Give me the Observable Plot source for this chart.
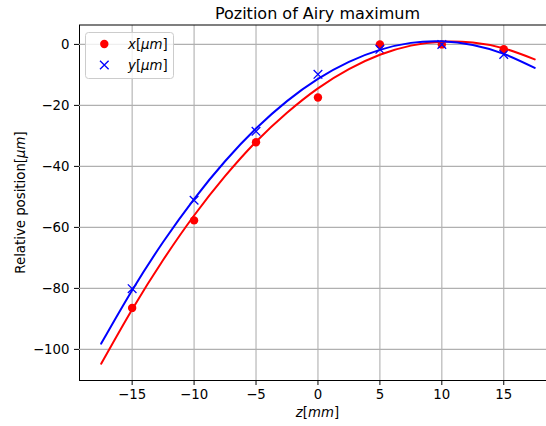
<!DOCTYPE html>
<html><head><meta charset="utf-8">
<script src="https://cdn.jsdelivr.net/npm/d3@7"></script>
<script src="https://cdn.jsdelivr.net/npm/@observablehq/plot@0.6"></script>
<style>body{margin:0;background:#fff} #chart svg{display:block}</style>
</head><body><div id="chart"></div>
<script>
// measured points
const zMeasured = [-15, -10, -5, 0, 5, 10, 15];
const xMeasured = [-86.4, -57.7, -32.1, -17.4, 0.0, 0.0, -1.6];
const yMeasured = [-80.1, -51.1, -28.5, -9.8, -1.6, 0.0, -3.3];
// fitted curves
const zFit = [-17.5, -15, -12.5, -10, -7.5, -5, -2.5, 0, 2.5, 5, 7.5, 10, 12.5, 15, 17.5];
const xFit = [-104.7, -86.9, -70.7, -56.1, -43.2, -31.9, -22.4, -14.4, -8.1, -3.4, -0.4, 0.9, 0.6, -1.3, -4.9];
const yFit = [-98.1, -80.6, -64.8, -50.7, -38.3, -27.6, -18.6, -11.3, -5.7, -1.8, 0.5, 1.0, -0.2, -3.1, -7.7];
const xTicks = [-15, -10, -5, 0, 5, 10, 15];
const yTicks = [-100, -80, -60, -40, -20, 0];
const titleText = "Pozition of Airy maximum";
const legendLabels = ["x", "y"];

const ptsX = zMeasured.map((z, i) => ({z, v: xMeasured[i]}));
const ptsY = zMeasured.map((z, i) => ({z, v: yMeasured[i]}));
const fitX = zFit.map((z, i) => ({z, v: xFit[i]}));
const fitY = zFit.map((z, i) => ({z, v: yFit[i]}));

const RED = "#ff0000", BLUE = "#0000ff", GRID = "#b0b0b0";

const plot = Plot.plot({
  width: 546, height: 426,
  marginLeft: 79, marginRight: 0, marginTop: 25, marginBottom: 46,
  style: {fontFamily: "DejaVu Sans", fontSize: "13.3px", background: "#fff", color: "#000"},
  x: {domain: [-19.25, 18.45], ticks: xTicks, tickSize: 5, tickPadding: 4, label: null, line: true},
  y: {domain: [-110.2, 6.2], ticks: yTicks, tickSize: 5, tickPadding: 5, label: null, line: true},
  marks: [
    Plot.ruleX(xTicks, {stroke: GRID, strokeWidth: 1.1}),
    Plot.ruleY(yTicks, {stroke: GRID, strokeWidth: 1.1}),
    Plot.dot(ptsX, {x: "z", y: "v", r: 4.2, fill: RED, stroke: "none"}),
    Plot.dot(ptsY, {x: "z", y: "v", r: 4, symbol: "times", stroke: BLUE, strokeWidth: 1.3}),
    Plot.line(fitX, {x: "z", y: "v", curve: "natural", stroke: RED, strokeWidth: 2}),
    Plot.line(fitY, {x: "z", y: "v", curve: "natural", stroke: BLUE, strokeWidth: 2})
  ]
});
document.getElementById("chart").appendChild(plot);

const svg = d3.select(plot);
const sx = plot.scale("x"), sy = plot.scale("y");
const [xl, xr] = sx.range;
const [yb, yt] = sy.range;
const cx = sx.apply(0);
const g = svg.append("g").attr("font-family", "DejaVu Sans");

// top spine
g.append("line").attr("x1", xl).attr("x2", xr).attr("y1", yt).attr("y2", yt)
  .attr("stroke", "#000").attr("stroke-width", 1.1);

// title
g.append("text").attr("x", cx).attr("y", 19).attr("text-anchor", "middle")
  .attr("font-size", "16px").attr("fill", "#000").text(titleText);

// x label
const xlab = g.append("text").attr("x", cx).attr("y", 417).attr("text-anchor", "middle")
  .attr("font-size", "13.3px").attr("fill", "#000");
xlab.append("tspan").attr("font-style", "italic").text("z");
xlab.append("tspan").text("[");
xlab.append("tspan").attr("font-style", "italic").text("mm");
xlab.append("tspan").text("]");

// y label
const ylab = g.append("text")
  .attr("transform", `translate(25,${(yt + yb) / 2}) rotate(-90)`)
  .attr("text-anchor", "middle").attr("font-size", "13.3px").attr("fill", "#000");
ylab.append("tspan").text("Relative position[");
ylab.append("tspan").attr("font-style", "italic").text("μm");
ylab.append("tspan").text("]");

// legend
const lg = g.append("g");
lg.append("rect").attr("x", 85.5).attr("y", 32.5).attr("width", 88).attr("height", 46)
  .attr("rx", 3).attr("fill", "#fff").attr("fill-opacity", 0.8).attr("stroke", "#cccccc");
lg.append("circle").attr("cx", 104.3).attr("cy", 44).attr("r", 4.2).attr("fill", RED);
lg.append("path").attr("transform", "translate(104.3,65)")
  .attr("d", d3.symbol(d3.symbolTimes, 4 * 4 * Math.PI)())
  .attr("fill", "none").attr("stroke", BLUE).attr("stroke-width", 1.3);
legendLabels.forEach((lab, i) => {
  const t = lg.append("text").attr("x", 128).attr("y", 48.5 + i * 21)
    .attr("text-anchor", "start").attr("font-size", "13.3px").attr("fill", "#000");
  t.append("tspan").attr("font-style", "italic").text(lab);
  t.append("tspan").text("[");
  t.append("tspan").attr("font-style", "italic").text("μm");
  t.append("tspan").text("]");
});
</script>
</body></html>
